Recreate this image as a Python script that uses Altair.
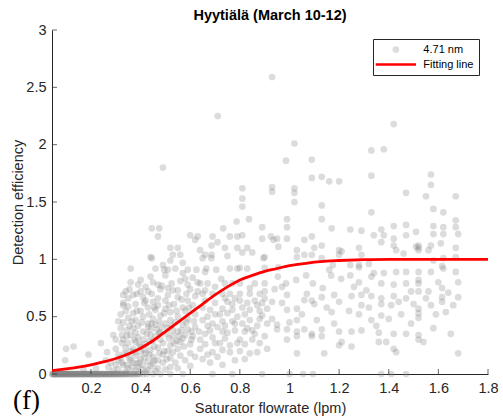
import altair as alt
import pandas as pd

title_text = "Hyytiälä (March 10-12)"
x_title = "Saturator flowrate (lpm)"
y_title = "Detection efficiency"
panel_label = "(f)"
series_names = ["4.71 nm", "Fitting line"]
x_ticks = [0.2, 0.4, 0.6, 0.8, 1.0, 1.2, 1.4, 1.6, 1.8]
y_ticks = [0, 0.5, 1, 1.5, 2, 2.5, 3]
x_min, x_max = 0.043, 1.8

# measured points (flowrate, efficiency), grouped by region
upper_pts = [
    (0.711, 2.25), (0.93, 2.59), (1.42, 2.18), (1.02, 2.01), (0.49, 1.80), (0.986, 1.86),
    (1.09, 1.87), (1.33, 1.95), (1.38, 1.96), (1.09, 1.71), (1.13, 1.72), (1.16, 1.68),
    (1.20, 1.68), (1.33, 1.73), (1.57, 1.74), (1.57, 1.65), (0.81, 1.62), (0.81, 1.53),
    (0.93, 1.63), (0.93, 1.59), (1.02, 1.62), (1.02, 1.58), (1.47, 1.58), (1.55, 1.55),
    (1.67, 1.55), (0.81, 1.46), (1.02, 1.50), (1.13, 1.47), (1.33, 1.41), (1.58, 1.44),
    (1.62, 1.41),
]

mid_pts = [
    (1.67, 1.34), (1.67, 1.28), (1.68, 1.22), (0.837, 1.35), (0.99, 1.35), (1.13, 1.35),
    (0.787, 1.33), (0.445, 1.27), (0.475, 1.27), (0.47, 1.20), (0.733, 1.27), (0.89, 1.28),
    (0.99, 1.28), (1.17, 1.27), (1.245, 1.26), (1.29, 1.25), (1.37, 1.26), (1.38, 1.21),
    (1.42, 1.29), (1.47, 1.30), (1.47, 1.21), (1.51, 1.24), (1.58, 1.29), (1.58, 1.22),
    (1.62, 1.28), (1.62, 1.22), (0.60, 1.21), (0.63, 1.20), (0.62, 1.17), (0.69, 1.20),
    (0.76, 1.20), (0.79, 1.20), (0.81, 1.21), (0.89, 1.18), (0.925, 1.20), (0.935, 1.17),
    (0.99, 1.18), (1.06, 1.17), (1.09, 1.20), (1.34, 1.21), (1.42, 1.18), (0.52, 1.10),
    (0.53, 1.04), (0.56, 1.04), (0.64, 1.08), (0.65, 1.01), (0.686, 1.12), (0.686, 1.04),
    (0.71, 1.15), (0.79, 1.10), (0.83, 1.10), (0.85, 1.06), (0.895, 1.01), (0.955, 1.11),
    (1.03, 1.08), (1.03, 1.02), (1.10, 1.10), (1.20, 1.08), (1.20, 1.04), (1.28, 1.10),
    (1.29, 1.04), (1.42, 1.12), (1.43, 1.08), (1.51, 1.11), (1.52, 1.08), (1.57, 1.12),
    (1.67, 1.10), (0.445, 1.01), (0.46, 0.92), (0.36, 0.92), (0.495, 0.91), (0.59, 0.91),
    (0.625, 0.91), (0.665, 0.92), (0.76, 0.92), (0.79, 0.92), (0.83, 0.92), (0.955, 0.93),
    (1.16, 0.91), (1.245, 0.95), (1.28, 0.95), (1.34, 0.88), (1.38, 0.88), (1.43, 0.89),
    (1.47, 0.89), (1.52, 0.89), (1.57, 0.89), (1.62, 0.92), (1.67, 0.89), (0.44, 1.02),
    (0.51, 0.91), (0.54, 0.92), (0.55, 1.10), (0.685, 1.01), (0.66, 1.04), (0.74, 1.10),
    (0.75, 1.03), (0.81, 1.06), (0.90, 1.02), (0.80, 0.925), (0.90, 0.925), (0.705, 0.91),
    (0.66, 0.89), (1.06, 1.04), (1.09, 1.04), (1.13, 1.12), (1.13, 1.01), (1.175, 0.95),
    (1.21, 1.07), (0.95, 1.18), (1.37, 1.15), (1.46, 1.05), (1.32, 0.96), (1.28, 0.93),
    (1.56, 1.08), (1.62, 1.01), (1.67, 1.02), (1.58, 0.99), (1.615, 0.94), (1.61, 1.14),
    (1.52, 1.12), (1.52, 1.10), (0.57, 0.97), (0.52, 0.99), (0.49, 0.95),
]

right_low_pts = [
    (0.725, 0.83), (0.64, 0.79), (0.67, 0.79), (0.74, 0.79), (0.77, 0.79), (0.80, 0.79),
    (0.86, 0.79), (0.90, 0.79), (0.65, 0.70), (0.69, 0.70), (0.73, 0.70), (0.76, 0.70),
    (0.80, 0.70), (0.84, 0.70), (0.88, 0.70), (0.90, 0.72), (0.65, 0.58), (0.68, 0.56),
    (0.73, 0.57), (0.77, 0.56), (0.81, 0.58), (0.84, 0.56), (0.88, 0.55), (0.91, 0.57),
    (0.65, 0.47), (0.69, 0.44), (0.73, 0.46), (0.77, 0.46), (0.81, 0.44), (0.84, 0.47),
    (0.89, 0.51), (0.91, 0.44), (0.635, 0.37), (0.68, 0.38), (0.73, 0.37), (0.78, 0.38),
    (0.82, 0.37), (0.86, 0.35), (0.66, 0.26), (0.72, 0.27), (0.76, 0.25), (0.82, 0.26),
    (0.88, 0.27), (0.69, 0.19), (0.76, 0.19), (0.84, 0.18), (0.87, 0.19), (0.78, 0.12),
    (0.63, 0.72), (0.66, 0.64), (0.70, 0.62), (0.72, 0.52), (0.75, 0.63), (0.78, 0.66),
    (0.83, 0.62), (0.86, 0.64), (0.89, 0.62), (0.67, 0.50), (0.71, 0.41), (0.75, 0.53),
    (0.79, 0.50), (0.82, 0.52), (0.87, 0.42), (0.64, 0.30), (0.69, 0.32), (0.74, 0.31),
    (0.80, 0.30), (0.85, 0.30), (0.90, 0.33), (0.65, 0.13), (0.71, 0.15), (0.82, 0.13),
    (0.91, 0.22), (0.64, 0.22), (0.68, 0.10), (0.73, 0.08),
    (0.66, 0.73), (0.70, 0.76), (0.74, 0.66), (0.77, 0.61), (0.80, 0.64), (0.84, 0.75),
    (0.87, 0.60), (0.90, 0.66), (0.67, 0.42), (0.70, 0.52), (0.74, 0.42), (0.78, 0.44),
    (0.83, 0.40), (0.88, 0.48), (0.66, 0.35), (0.70, 0.27), (0.75, 0.36), (0.79, 0.27),
    (0.85, 0.38), (0.67, 0.17), (0.73, 0.21), (0.80, 0.20),
]

far_right_pts = [
    (0.953, 0.85), (0.986, 0.79), (1.027, 0.82), (1.067, 0.86), (1.094, 0.79), (1.134, 0.75),
    (1.168, 0.86), (1.208, 0.83), (0.99, 0.69), (1.07, 0.70), (1.09, 0.64), (1.13, 0.67),
    (1.18, 0.69), (0.93, 0.63), (0.99, 0.56), (1.03, 0.57), (1.06, 0.645), (1.10, 0.61),
    (1.17, 0.54), (1.20, 0.63), (0.95, 0.39), (0.99, 0.39), (1.03, 0.37), (1.06, 0.39),
    (1.09, 0.35), (1.13, 0.39), (1.20, 0.37), (0.95, 0.43), (1.03, 0.47), (0.99, 0.30),
    (1.03, 0.33), (1.09, 0.33), (1.13, 0.33), (1.21, 0.28), (1.03, 0.18), (1.14, 0.18),
    (1.245, 0.86), (1.33, 0.85), (1.28, 0.80), (1.37, 0.79), (1.42, 0.78), (1.47, 0.79),
    (1.25, 0.68), (1.29, 0.69), (1.33, 0.68), (1.37, 0.66), (1.42, 0.68), (1.47, 0.66),
    (1.29, 0.60), (1.32, 0.58), (1.37, 0.61), (1.41, 0.60), (1.45, 0.52), (1.50, 0.61),
    (1.28, 0.52), (1.33, 0.47), (1.37, 0.51), (1.25, 0.37), (1.29, 0.38), (1.36, 0.36),
    (1.42, 0.35), (1.47, 0.35), (1.25, 0.24), (1.36, 0.28), (1.42, 0.22), (1.43, 0.19),
    (1.20, 0.25), (1.39, 0.28), (1.54, 0.28),
    (1.52, 0.82), (1.68, 0.80), (1.52, 0.79), (1.52, 0.72), (1.56, 0.72), (1.615, 0.75),
    (1.615, 0.67), (1.68, 0.67), (1.615, 0.63), (1.52, 0.57), (1.52, 0.53), (1.52, 0.49),
    (1.57, 0.60), (1.63, 0.54), (1.52, 0.34), (1.52, 0.30), (1.68, 0.18),
    (0.93, 0.48), (0.94, 0.74), (0.97, 0.62), (1.00, 0.45), (0.97, 0.76), (1.05, 0.52),
    (1.11, 0.47), (1.15, 0.58), (1.18, 0.44), (1.24, 0.55), (1.26, 0.76), (1.31, 0.73),
    (1.35, 0.42), (1.40, 0.48), (1.44, 0.63), (1.49, 0.72), (1.55, 0.66), (1.59, 0.52),
    (1.64, 0.71), (1.66, 0.60), (1.60, 0.80), (1.49, 0.44), (1.58, 0.40), (1.65, 0.35),
]

dense_pts = [
    (0.36, 0.80), (0.39, 0.78), (0.42, 0.76), (0.45, 0.80), (0.485, 0.77), (0.525, 0.79),
    (0.56, 0.81), (0.59, 0.78), (0.61, 0.84), (0.50, 0.86), (0.44, 0.85), (0.57, 0.88),
    (0.37, 0.69), (0.41, 0.67), (0.445, 0.70), (0.47, 0.66), (0.51, 0.69), (0.55, 0.67),
    (0.585, 0.70), (0.62, 0.68), (0.40, 0.72), (0.53, 0.73), (0.60, 0.74), (0.48, 0.74),
    (0.35, 0.59), (0.38, 0.61), (0.43, 0.58), (0.47, 0.60), (0.50, 0.57), (0.535, 0.61),
    (0.57, 0.58), (0.61, 0.60), (0.40, 0.55), (0.45, 0.63), (0.52, 0.54), (0.59, 0.64),
    (0.33, 0.62), (0.35, 0.49), (0.38, 0.47), (0.41, 0.50), (0.45, 0.48), (0.48, 0.51),
    (0.52, 0.47), (0.55, 0.50), (0.59, 0.48), (0.37, 0.53), (0.43, 0.44), (0.50, 0.44),
    (0.57, 0.43), (0.62, 0.52), (0.33, 0.45), (0.345, 0.38), (0.37, 0.40), (0.41, 0.37),
    (0.44, 0.39), (0.48, 0.36), (0.51, 0.40), (0.55, 0.37), (0.59, 0.39), (0.36, 0.34),
    (0.39, 0.32), (0.43, 0.41), (0.46, 0.33), (0.53, 0.33), (0.58, 0.34), (0.62, 0.41),
    (0.32, 0.40), (0.35, 0.27), (0.38, 0.28), (0.42, 0.26), (0.45, 0.29), (0.49, 0.27),
    (0.52, 0.25), (0.56, 0.28), (0.60, 0.26), (0.34, 0.23), (0.37, 0.22), (0.40, 0.24),
    (0.44, 0.21), (0.47, 0.23), (0.51, 0.20), (0.55, 0.22), (0.33, 0.30), (0.41, 0.30),
    (0.345, 0.17), (0.38, 0.16), (0.42, 0.18), (0.45, 0.15), (0.49, 0.17), (0.52, 0.14),
    (0.56, 0.16), (0.60, 0.18), (0.32, 0.14), (0.36, 0.12), (0.40, 0.13), (0.43, 0.11),
    (0.47, 0.12), (0.54, 0.10), (0.37, 0.10), (0.41, 0.08), (0.45, 0.09), (0.49, 0.10),
    (0.33, 0.08), (0.35, 0.05), (0.39, 0.06), (0.43, 0.04), (0.47, 0.05), (0.52, 0.06),
    (0.31, 0.04), (0.34, 0.02), (0.38, 0.03), (0.42, 0.02), (0.29, 0.03), (0.27, 0.06),
    (0.30, 0.08), (0.28, 0.10), (0.39, 0.42), (0.46, 0.56), (0.42, 0.64), (0.36, 0.20),
    (0.40, 0.19), (0.44, 0.34), (0.48, 0.30), (0.50, 0.64), (0.54, 0.45), (0.58, 0.55),
    (0.34, 0.55), (0.38, 0.36), (0.46, 0.43), (0.53, 0.38), (0.57, 0.31), (0.61, 0.33),
]

dense_extra_pts = [
    (0.355, 0.74), (0.385, 0.70), (0.415, 0.62), (0.435, 0.52), (0.455, 0.58), (0.475, 0.46),
    (0.495, 0.53), (0.515, 0.60), (0.545, 0.55), (0.565, 0.65), (0.595, 0.58), (0.615, 0.46),
    (0.355, 0.42), (0.375, 0.30), (0.395, 0.26), (0.415, 0.21), (0.435, 0.29), (0.455, 0.24),
    (0.475, 0.36), (0.495, 0.20), (0.515, 0.31), (0.535, 0.27), (0.555, 0.33), (0.575, 0.24),
    (0.605, 0.30), (0.335, 0.18), (0.355, 0.14), (0.375, 0.19), (0.395, 0.10), (0.415, 0.14),
    (0.435, 0.17), (0.455, 0.12), (0.475, 0.18), (0.505, 0.13), (0.53, 0.19), (0.58, 0.12),
    (0.62, 0.15), (0.325, 0.10), (0.345, 0.08), (0.365, 0.06), (0.385, 0.09), (0.405, 0.04),
    (0.44, 0.07), (0.46, 0.03), (0.50, 0.04), (0.55, 0.05), (0.60, 0.07), (0.345, 0.33),
    (0.365, 0.46), (0.385, 0.55), (0.405, 0.45), (0.425, 0.35), (0.445, 0.44), (0.465, 0.39),
    (0.485, 0.41), (0.505, 0.35), (0.525, 0.42), (0.545, 0.29), (0.565, 0.38), (0.585, 0.45),
    (0.605, 0.37), (0.43, 0.72), (0.47, 0.78), (0.51, 0.75), (0.55, 0.73), (0.58, 0.83),
    (0.63, 0.80), (0.40, 0.82), (0.35, 0.66), (0.34, 0.72),
]

left_pts = [
    (0.33, 0.69), (0.33, 0.60), (0.31, 0.46), (0.29, 0.34), (0.325, 0.34), (0.24, 0.27),
    (0.10, 0.22), (0.13, 0.24), (0.096, 0.12), (0.19, 0.17), (0.265, 0.19), (0.30, 0.22),
    (0.31, 0.17), (0.325, 0.27), (0.31, 0.12), (0.22, 0.05), (0.17, 0.04), (0.26, 0.12),
    (0.30, 0.30), (0.32, 0.52),
]

zero_x = [
    0.043, 0.046, 0.05, 0.053, 0.057, 0.06, 0.064, 0.067, 0.071, 0.075, 0.078, 0.082,
    0.086, 0.09, 0.093, 0.097, 0.101, 0.105, 0.108, 0.112, 0.116, 0.12, 0.124, 0.128,
    0.132, 0.136, 0.14, 0.144, 0.148, 0.152, 0.157, 0.161, 0.165, 0.169, 0.173, 0.178,
    0.182, 0.186, 0.19, 0.195, 0.199, 0.204, 0.208, 0.213, 0.217, 0.222, 0.226, 0.231,
    0.236, 0.24, 0.245, 0.25, 0.255, 0.26, 0.265, 0.27, 0.275, 0.28, 0.286, 0.291,
    0.297, 0.302, 0.308, 0.314, 0.32, 0.326, 0.332, 0.339, 0.345, 0.352, 0.36, 0.368,
    0.377, 0.386, 0.396, 0.41, 0.425, 0.45, 0.48, 0.52, 0.57, 0.69, 0.77, 0.89, 1.0,
    1.055, 1.095, 1.37, 1.41, 1.47,
    0.048, 0.055, 0.062, 0.069, 0.076, 0.084, 0.091, 0.099, 0.106, 0.114, 0.122, 0.13,
    0.138, 0.146, 0.155, 0.163, 0.171, 0.18, 0.188, 0.197, 0.206, 0.215, 0.224, 0.233,
    0.243, 0.253, 0.263, 0.273, 0.283, 0.294, 0.305, 0.317, 0.329, 0.342, 0.356, 0.372,
    0.39,
]

# fitted curve
fit_x = [0.043, 0.1, 0.15, 0.2, 0.25, 0.3, 0.35, 0.4, 0.45, 0.5, 0.55, 0.6, 0.65, 0.7,
         0.75, 0.8, 0.85, 0.9, 0.95, 1.0, 1.05, 1.1, 1.15, 1.2, 1.3, 1.4, 1.5, 1.6, 1.7, 1.8]
fit_y = [0.03, 0.045, 0.06, 0.08, 0.105, 0.135, 0.175, 0.225, 0.29, 0.37, 0.45, 0.53, 0.61,
         0.69, 0.76, 0.82, 0.86, 0.895, 0.92, 0.945, 0.96, 0.975, 0.985, 0.99, 0.997, 1.0,
         1.0, 1.0, 1.0, 1.0]

pts = (upper_pts + mid_pts + right_low_pts + far_right_pts + dense_pts + dense_extra_pts
       + left_pts + [(v, 0.0) for v in zero_x])
df_pts = pd.DataFrame(pts, columns=["flow", "eff"])
df_pts["series"] = series_names[0]
df_fit = pd.DataFrame({"flow": fit_x, "eff": fit_y})
df_xt = pd.DataFrame({"flow": x_ticks})
df_yt = pd.DataFrame({"eff": y_ticks})
df_lab = pd.DataFrame({"label": [panel_label]})

FONT = "Liberation Sans"
INK = "#262626"

x_scale = alt.Scale(domain=[x_min, x_max], nice=False, zero=False)
y_scale = alt.Scale(domain=[0, 3], nice=False, zero=False)

x_axis = alt.Axis(values=x_ticks, format="~g", ticks=False, labelPadding=7, labelFlush=False,
                  labelOverlap=False, grid=False, title=x_title, titleX=218, titleY=38,
                  titleBaseline="alphabetic", titleAnchor="middle")
y_axis = alt.Axis(values=y_ticks, format="~g", ticks=False, labelPadding=6, labelFlush=False,
                  labelOverlap=False, grid=False, title=y_title, titleX=-30, titleY=172,
                  titleAngle=-90, titleBaseline="alphabetic", titleAlign="center")

legend = alt.Legend(title=None, orient="none", legendX=321, legendY=9, padding=5,
                    strokeColor=INK, fillColor="white", labelFont=FONT, labelFontSize=11,
                    labelColor="#000000", symbolSize=45, symbolStrokeWidth=2.6,
                    symbolOffset=12.35, labelOffset=22, rowPadding=-3, symbolOpacity=1)

points = alt.Chart(df_pts).mark_point(filled=True, size=45, opacity=1).encode(
    x=alt.X("flow:Q", scale=x_scale, axis=x_axis),
    y=alt.Y("eff:Q", scale=y_scale, axis=y_axis),
    fill=alt.Fill("series:N", scale=alt.Scale(domain=series_names,
                  range=["rgba(128,128,128,0.28)", "#ff0000"]), legend=legend),
    stroke=alt.Stroke("series:N", scale=alt.Scale(domain=series_names,
                      range=["transparent", "#ff0000"]), legend=legend),
    shape=alt.Shape("series:N", scale=alt.Scale(domain=series_names,
                    range=["circle", "M-6,0L6,0"]), legend=legend),
)

fit = alt.Chart(df_fit).mark_line(color="#ff0000", strokeWidth=2.8, interpolate="monotone").encode(
    x=alt.X("flow:Q", scale=x_scale),
    y=alt.Y("eff:Q", scale=y_scale),
)

xticks = alt.Chart(df_xt).mark_tick(orient="vertical", size=5, thickness=1, color=INK, yOffset=-2.5).encode(
    x=alt.X("flow:Q", scale=x_scale),
    y=alt.datum(0),
)
yticks = alt.Chart(df_yt).mark_tick(orient="horizontal", size=5, thickness=1, color=INK, xOffset=2.5).encode(
    y=alt.Y("eff:Q", scale=y_scale),
    x=alt.datum(x_min),
)

label = alt.Chart(df_lab).mark_text(font="Liberation Serif", fontSize=27, align="left",
                                    baseline="alphabetic", color="#000000").encode(
    text="label:N", x=alt.value(-39), y=alt.value(379),
)

chart = alt.layer(points, fit, xticks, yticks, label).properties(
    width=436, height=344,
    title=alt.TitleParams(title_text, font=FONT, fontSize=14.5, fontWeight="bold",
                          color="#000000", anchor="middle", baseline="alphabetic", offset=-12.5),
    autosize=alt.AutoSizeParams(type="none"),
    padding={"left": 52, "top": 30, "right": 15, "bottom": 46},
).configure_view(stroke=None).configure_axis(
    domainColor=INK, domainWidth=1, labelColor=INK, labelFont=FONT, labelFontSize=14.5,
    titleColor=INK, titleFont=FONT, titleFontSize=14.5, titleFontWeight="normal",
).configure_legend(labelFont=FONT, labelFontSize=11)

chart.save("out.html", embed_options={"renderer": "svg", "actions": False})
